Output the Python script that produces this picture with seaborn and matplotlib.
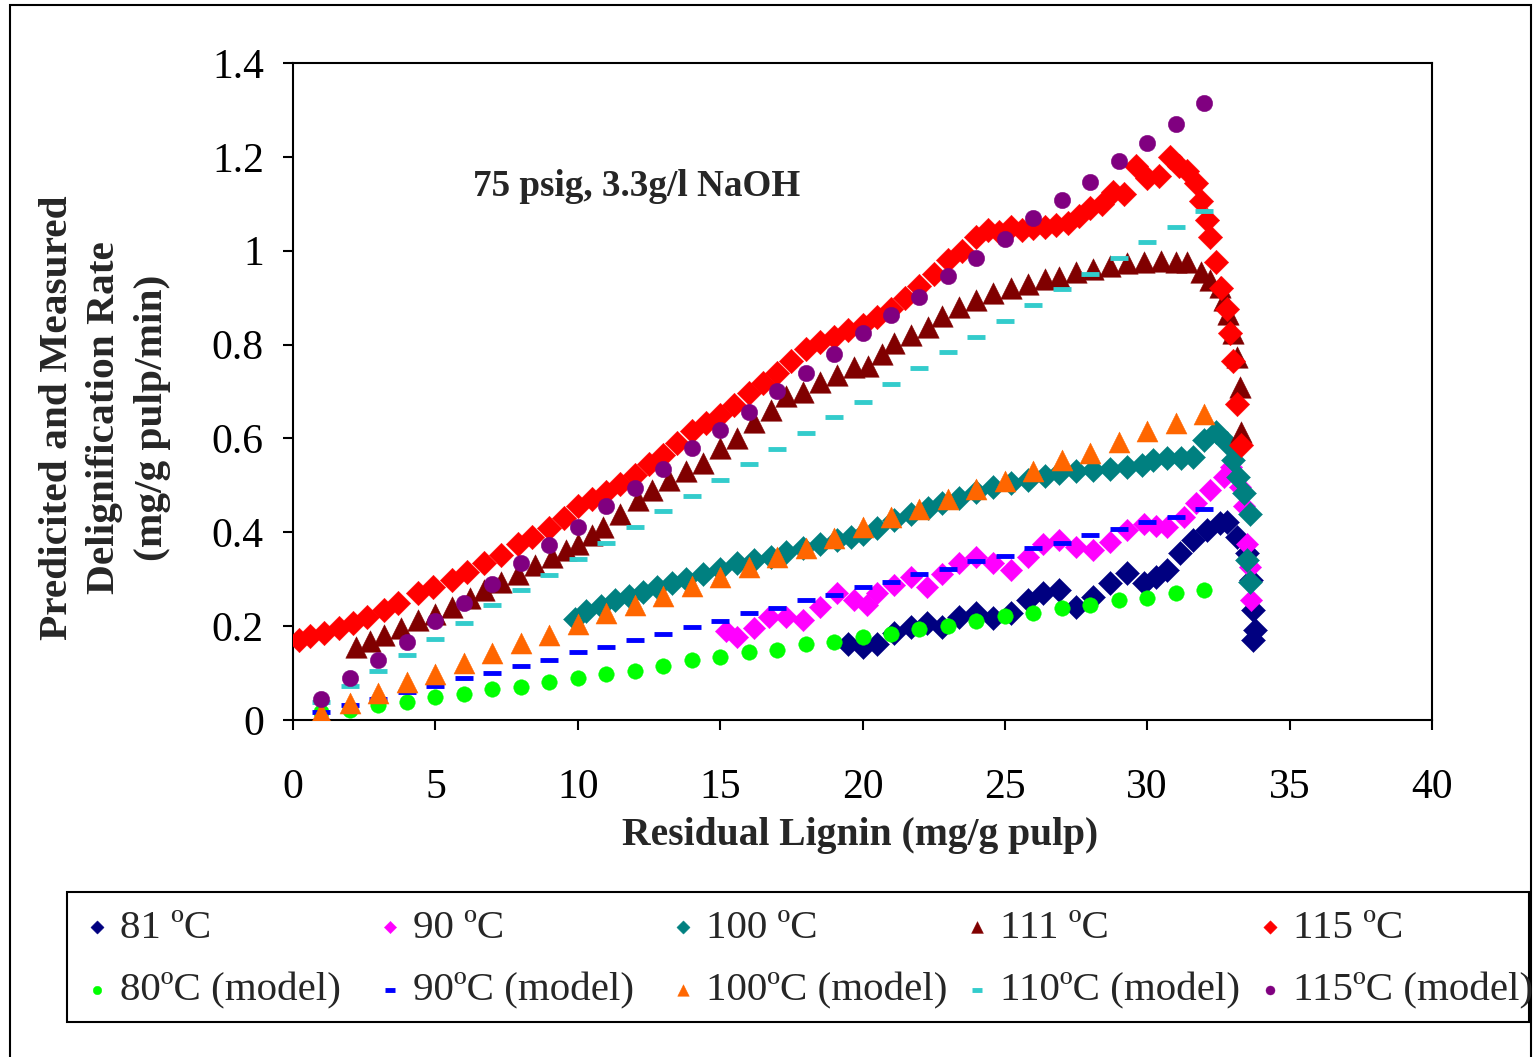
import matplotlib
matplotlib.use("Agg")
import matplotlib.pyplot as plt
import seaborn as sns
from matplotlib.patches import Rectangle

sns.set_theme(style="ticks")
plt.rcParams["font.family"] = ["Liberation Serif", "DejaVu Serif"]

x_81 = [19.5, 20.0, 20.5, 21.1, 21.7, 22.25, 22.8, 23.4, 24.0, 24.6, 25.2, 25.8, 26.35, 26.9, 27.5, 28.1,
        28.7, 29.3, 29.9, 30.3, 30.7, 31.15, 31.6, 32.1, 32.55, 32.8, 33.15, 33.5, 33.65, 33.72, 33.78, 33.72]
y_81 = [0.163, 0.156, 0.163, 0.185, 0.199, 0.206, 0.199, 0.22, 0.227, 0.217, 0.227, 0.256, 0.27, 0.277, 0.241, 0.263,
        0.291, 0.313, 0.291, 0.305, 0.32, 0.355, 0.384, 0.405, 0.419, 0.422, 0.39, 0.355, 0.298, 0.234, 0.192, 0.17]

x_90 = [15.2, 15.6, 16.2, 16.7, 17.3, 17.9, 18.5, 19.1, 19.7, 20.15, 20.5, 21.1, 21.7, 22.25, 22.8, 23.4, 24.0,
        24.6, 25.2, 25.8, 26.35, 26.9, 27.5, 28.1, 28.7, 29.3, 29.9, 30.3, 30.7, 31.3, 31.7, 32.2, 32.7, 32.95,
        33.25, 33.4, 33.5, 33.6, 33.65]
y_90 = [0.19, 0.177, 0.195, 0.22, 0.22, 0.213, 0.241, 0.27, 0.256, 0.245, 0.27, 0.288, 0.305, 0.284, 0.312, 0.334,
        0.348, 0.334, 0.32, 0.348, 0.376, 0.384, 0.369, 0.362, 0.38, 0.405, 0.418, 0.414, 0.412, 0.433, 0.462, 0.49,
        0.518, 0.54, 0.497, 0.455, 0.376, 0.327, 0.256]

x_100 = [9.9, 10.3, 10.8, 11.3, 11.8, 12.3, 12.8, 13.3, 13.8, 14.4, 15.0, 15.6, 16.2, 16.8, 17.3, 17.9, 18.5,
         19.1, 19.6, 20.0, 20.5, 21.1, 21.7, 22.3, 22.8, 23.4, 24.0, 24.6, 25.2, 25.8, 26.4, 26.9, 27.5, 28.1,
         28.7, 29.3, 29.8, 30.2, 30.7, 31.2, 31.6, 32.0, 32.4, 32.8, 33.0, 33.2, 33.4, 33.6, 33.5, 33.6]
y_100 = [0.215, 0.232, 0.243, 0.255, 0.265, 0.273, 0.283, 0.291, 0.3, 0.312, 0.322, 0.334, 0.342, 0.348, 0.358,
         0.366, 0.375, 0.384, 0.39, 0.396, 0.41, 0.426, 0.438, 0.451, 0.462, 0.472, 0.485, 0.497, 0.504, 0.511,
         0.52, 0.526, 0.53, 0.533, 0.535, 0.54, 0.543, 0.553, 0.558, 0.558, 0.561, 0.597, 0.614, 0.59, 0.554,
         0.518, 0.483, 0.44, 0.341, 0.295]

x_111 = [2.2, 2.7, 3.2, 3.8, 4.4, 5.0, 5.6, 6.2, 6.7, 7.3, 7.9, 8.5, 9.1, 9.6, 10.0, 10.5, 10.9, 11.5, 12.1, 12.6,
         13.2, 13.8, 14.4, 15.0, 15.6, 16.2, 16.8, 17.3, 17.9, 18.5, 19.1, 19.7, 20.2, 20.7, 21.1, 21.7, 22.3,
         22.8, 23.4, 24.0, 24.6, 25.2, 25.8, 26.4, 26.9, 27.5, 28.1, 28.7, 29.3, 29.9, 30.5, 31.0, 31.4, 31.9,
         32.2, 32.55, 32.7, 32.85, 33.0, 33.15, 33.25, 33.3]
y_111 = [0.156, 0.168, 0.181, 0.197, 0.213, 0.226, 0.241, 0.259, 0.277, 0.295, 0.312, 0.33, 0.348, 0.362, 0.376,
         0.395, 0.412, 0.44, 0.469, 0.49, 0.511, 0.53, 0.547, 0.58, 0.6, 0.635, 0.66, 0.69, 0.7, 0.72, 0.735,
         0.753, 0.755, 0.78, 0.803, 0.82, 0.838, 0.86, 0.881, 0.895, 0.909, 0.92, 0.93, 0.94, 0.945, 0.955,
         0.962, 0.968, 0.973, 0.975, 0.978, 0.977, 0.977, 0.955, 0.938, 0.923, 0.895, 0.866, 0.824, 0.774,
         0.71, 0.614]

x_115 = [0.2, 0.6, 1.1, 1.6, 2.1, 2.6, 3.2, 3.7, 4.4, 4.9, 5.6, 6.1, 6.7, 7.3, 7.9, 8.4, 9.0, 9.5, 10.0, 10.5,
         11.0, 11.5, 12.0, 12.5, 13.0, 13.5, 14.0, 14.5, 15.0, 15.5, 16.0, 16.5, 17.0, 17.5, 18.0, 18.5, 19.0,
         19.5, 20.0, 20.5, 21.0, 21.5, 22.0, 22.5, 23.0, 23.5, 24.0, 24.4, 24.8, 25.2, 25.6, 26.0, 26.4, 26.8,
         27.2, 27.6, 28.0, 28.4, 28.8, 29.2, 29.6, 30.0, 30.4, 30.8, 31.1, 31.4, 31.7, 31.9, 32.1, 32.2, 32.4,
         32.6, 32.8, 32.9, 33.0, 33.15, 33.3]
y_115 = [0.17, 0.18, 0.185, 0.195, 0.206, 0.22, 0.234, 0.25, 0.27, 0.283, 0.298, 0.315, 0.334, 0.352, 0.375,
         0.39, 0.41, 0.43, 0.455, 0.47, 0.486, 0.503, 0.522, 0.545, 0.565, 0.59, 0.615, 0.632, 0.65, 0.672, 0.696,
         0.718, 0.739, 0.765, 0.79, 0.805, 0.817, 0.83, 0.842, 0.858, 0.875, 0.9, 0.925, 0.95, 0.98, 1.0, 1.03,
         1.045, 1.04, 1.05, 1.045, 1.048, 1.05, 1.055, 1.06, 1.075, 1.09, 1.1, 1.125, 1.12, 1.18, 1.155, 1.16,
         1.2, 1.18, 1.17, 1.145, 1.105, 1.065, 1.03, 0.975, 0.92, 0.875, 0.825, 0.765, 0.673, 0.585]

# ---- model predictions, one per unit of residual lignin ----
x_model = list(range(1, 33))
y_80m = [0.018, 0.021, 0.032, 0.038, 0.05, 0.055, 0.067, 0.071, 0.082, 0.089, 0.099, 0.105, 0.116, 0.128, 0.134,
         0.144, 0.149, 0.161, 0.167, 0.177, 0.183, 0.194, 0.2, 0.211, 0.222, 0.227, 0.239, 0.245, 0.256, 0.261,
         0.271, 0.278]
y_90m = [0.016, 0.033, 0.044, 0.06, 0.072, 0.089, 0.1, 0.116, 0.128, 0.144, 0.155, 0.171, 0.183, 0.199, 0.211,
         0.227, 0.238, 0.256, 0.266, 0.283, 0.294, 0.311, 0.322, 0.339, 0.35, 0.366, 0.378, 0.394, 0.406, 0.422,
         0.433, 0.45]
y_100m = [0.015, 0.036, 0.058, 0.082, 0.097, 0.121, 0.142, 0.165, 0.181, 0.204, 0.227, 0.244, 0.265, 0.286, 0.304,
          0.327, 0.348, 0.366, 0.387, 0.411, 0.432, 0.449, 0.471, 0.492, 0.51, 0.531, 0.554, 0.57, 0.593, 0.616,
          0.632, 0.653]
y_110m = [0.038, 0.072, 0.105, 0.138, 0.172, 0.206, 0.245, 0.278, 0.31, 0.344, 0.378, 0.411, 0.445, 0.478, 0.511,
          0.545, 0.577, 0.611, 0.645, 0.678, 0.717, 0.751, 0.784, 0.817, 0.851, 0.884, 0.918, 0.951, 0.985, 1.018,
          1.051, 1.085]
y_115m = [0.044, 0.089, 0.128, 0.167, 0.211, 0.25, 0.289, 0.335, 0.373, 0.412, 0.456, 0.495, 0.534, 0.579, 0.618,
          0.656, 0.701, 0.74, 0.779, 0.824, 0.863, 0.902, 0.946, 0.985, 1.024, 1.069, 1.108, 1.147, 1.191, 1.23,
          1.269, 1.314]

x_ticks = [0, 5, 10, 15, 20, 25, 30, 35, 40]
y_ticks = [0, 0.2, 0.4, 0.6, 0.8, 1.0, 1.2, 1.4]
y_tick_labels = ["0", "0.2", "0.4", "0.6", "0.8", "1", "1.2", "1.4"]

W, H = 1533, 1057
fig = plt.figure(figsize=(W / 100, H / 100), dpi=100)
ax = fig.add_axes([293 / W, 1 - 720 / H, (1432 - 293) / W, (720 - 63) / H])

# measured series first, model series on top
measured = [
    (x_81, y_81, "81 ºC", "#000080", "D", 150),
    (x_90, y_90, "90 ºC", "#FF00FF", "D", 130),
    (x_100, y_100, "100 ºC", "#008080", "D", 150),
    (x_111, y_111, "111 ºC", "#800000", "^", 240),
    (x_115, y_115, "115 ºC", "#FF0000", "D", 155),
]
model = [
    (y_80m, "80ºC (model)", "#00FF00", "o", 125),
    (y_90m, "90ºC (model)", "#0000FF", "_", 170),
    (y_100m, "100ºC (model)", "#FF6600", "^", 230),
    (y_110m, "110ºC (model)", "#33CCCC", "_", 170),
    (y_115m, "115ºC (model)", "#800080", "o", 140),
]

for xs, ys, lab, col, mk, sz in measured:
    sns.scatterplot(x=xs, y=ys, ax=ax, marker=mk, s=sz, color=col, edgecolor=col,
                    linewidth=0.3, label=lab, legend=False, zorder=3)
for ys, lab, col, mk, sz in model:
    if mk == "_":
        sns.scatterplot(x=x_model, y=ys, ax=ax, marker=mk, s=sz, color=col,
                        linewidth=3.5, label=lab, legend=False, zorder=4)
    else:
        sns.scatterplot(x=x_model, y=ys, ax=ax, marker=mk, s=sz, color=col, edgecolor=col,
                        linewidth=0.3, label=lab, legend=False, zorder=4)

ax.set_xlim(0, 40)
ax.set_ylim(0, 1.4)
ax.set_xticks(x_ticks)
ax.set_xticklabels([str(t) for t in x_ticks])
ax.set_yticks(y_ticks)
ax.set_yticklabels(y_tick_labels)
ax.set_xlabel("")
ax.set_ylabel("")
for sp in ax.spines.values():
    sp.set_visible(True)
    sp.set_linewidth(1.5)
    sp.set_color("black")
ax.tick_params(axis="both", direction="out", length=7, width=1.5, colors="black", labelsize=30)
ax.tick_params(axis="x", pad=28)
ax.tick_params(axis="y", pad=14)
ax.grid(False)

ax.text(6.32, 1.136, "75 psig, 3.3g/l NaOH", fontsize=26.7, fontweight="bold", ha="left", va="center")

fig.text(860 / W, 1 - 836 / H, "Residual Lignin (mg/g pulp)", fontsize=28.5, fontweight="bold",
         ha="center", va="center")
fig.text(105 / W, 1 - 418 / H, "Predicited and Measured\nDelignification Rate\n(mg/g pulp/min)",
         fontsize=29.8, fontweight="bold", rotation=90, ha="center", va="center",
         multialignment="center", linespacing=1.36)

# legend: framed box under the plot, five evenly spaced columns (measured on top, model below)
handles, labels = ax.get_legend_handles_labels()
lookup = dict(zip(labels, handles))
fig.patches.append(Rectangle((67 / W, 1 - 1022 / H), (1529 - 67) / W, 130 / H, transform=fig.transFigure,
                             fill=False, edgecolor="black", linewidth=1.5))
col_marker_x = [97, 390, 683, 977, 1270]
for cx, (_, _, m_lab, _, _, _), (_, mod_lab, _, _, _) in zip(col_marker_x, measured, model):
    leg = fig.legend([lookup[m_lab], lookup[mod_lab]], [m_lab, mod_lab], ncol=1, loc="center left",
                     bbox_to_anchor=((cx - 12.3) / W, 1 - 959.5 / H), frameon=False, fontsize=29.5,
                     handlelength=0.6, handletextpad=0.25, borderpad=0, labelspacing=0.6,
                     markerscale=0.55, borderaxespad=0)

fig.patches.append(Rectangle((10 / W, -0.01), (1531 - 10) / W, 1 - 5 / H + 0.01, transform=fig.transFigure,
                             fill=False, edgecolor="black", linewidth=1.5))

fig.savefig("out.png", dpi=100)
